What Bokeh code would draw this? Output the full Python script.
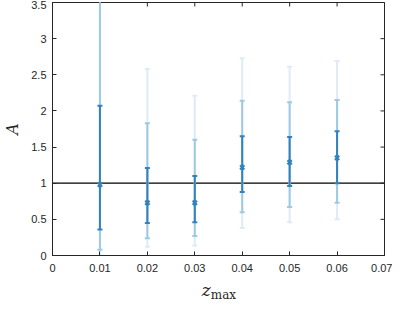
import math
from bokeh.plotting import figure
from bokeh.models import LinearAxis, FixedTicker, Span, Range1d, Div
from bokeh.layouts import column
from bokeh.embed import file_html
from bokeh.resources import INLINE

# ---- data ----
z_max = [0.01, 0.02, 0.03, 0.04, 0.05, 0.06]
A_val = [0.98, 0.73, 0.73, 1.22, 1.29, 1.35]
dark_lo = [0.36, 0.45, 0.46, 0.88, 0.96, 1.00]
dark_hi = [2.07, 1.21, 1.10, 1.65, 1.64, 1.72]
mid_lo = [0.08, 0.24, 0.27, 0.60, 0.67, 0.73]
mid_hi = [3.60, 1.83, 1.60, 2.14, 2.12, 2.15]
light_lo = [-0.20, 0.12, 0.14, 0.38, 0.46, 0.50]
light_hi = [4.80, 2.58, 2.21, 2.73, 2.61, 2.69]
ref_level = 1.0

x_ticks = [0, 0.01, 0.02, 0.03, 0.04, 0.05, 0.06, 0.07]
x_tick_labels = ["0", "0.01", "0.02", "0.03", "0.04", "0.05", "0.06", "0.07"]
y_ticks = [0, 0.5, 1, 1.5, 2, 2.5, 3, 3.5]
y_tick_labels = ["0", "0.5", "1", "1.5", "2", "2.5", "3", "3.5"]
x_min, x_max = 0, 0.07
y_min, y_max = 0, 3.5

c_dark = "#3182bd"
c_mid = "#9ecae1"
c_light = "#deebf7"
axis_col = "#262626"
tick_font = "Liberation Sans"
label_font = "DejaVu Serif"

p = figure(width=392, height=278, output_backend="svg", toolbar_location=None,
           x_range=Range1d(x_min, x_max), y_range=Range1d(y_min, y_max),
           min_border_left=43, min_border_right=8, min_border_top=2,
           min_border_bottom=23, x_axis_location=None, y_axis_location=None)
p.grid.visible = False
p.outline_line_color = axis_col
p.outline_line_width = 1
p.background_fill_color = "white"
p.border_fill_color = "white"


def style_axis(ax, ticks, labels):
    ax.ticker = FixedTicker(ticks=ticks)
    ax.major_label_overrides = {t: l for t, l in zip(ticks, labels)}
    ax.major_tick_in = 4
    ax.major_tick_out = 0
    ax.minor_tick_in = 0
    ax.minor_tick_out = 0
    ax.axis_line_color = axis_col
    ax.major_tick_line_color = axis_col
    ax.major_label_text_color = axis_col
    ax.major_label_text_font = tick_font
    ax.major_label_text_font_size = "11px"
    ax.major_label_standoff = 8


xb = LinearAxis()
style_axis(xb, x_ticks, x_tick_labels)
p.add_layout(xb, "below")
yl = LinearAxis(axis_label="A", axis_label_text_font=label_font,
                axis_label_text_font_style="italic",
                axis_label_text_font_size="16px", axis_label_text_color=axis_col,
                axis_label_standoff=6)
style_axis(yl, y_ticks, y_tick_labels)
yl.major_label_standoff = 6
p.add_layout(yl, "left")

# mirrored ticks on top and right (box on): dashes centred on the frame edge,
# the outer half is clipped by the frame
p.scatter(x=[x_max] * len(y_ticks), y=y_ticks, marker="dash", size=8,
          line_color=axis_col, line_width=1)
p.scatter(x=x_ticks, y=[y_max] * len(x_ticks), marker="dash", size=8,
          angle=math.pi / 2, line_color=axis_col, line_width=1)

p.add_layout(Span(location=ref_level, dimension="width", line_color="black",
                  line_width=1.2, level="underlay"))

for lo, hi, col in ((light_lo, light_hi, c_light), (mid_lo, mid_hi, c_mid),
                    (dark_lo, dark_hi, c_dark)):
    p.segment(x0=z_max, y0=lo, x1=z_max, y1=hi, line_color=col, line_width=2)
    p.scatter(x=z_max, y=lo, marker="dash", size=5, line_color=col, line_width=2)
    p.scatter(x=z_max, y=hi, marker="dash", size=5, line_color=col, line_width=2)

p.scatter(x=z_max, y=A_val, marker="x", size=6, line_color=c_dark, line_width=2.2)

xlabel_html = (
    '<div style="width:342px;margin-left:43px;text-align:center;'
    'color:#262626;line-height:15px;white-space:nowrap">'
    '<span style="font-family:\'DejaVu Serif\';font-style:italic;font-size:17px">z</span>'
    '<span style="font-family:\'DejaVu Serif\';font-size:12px;position:relative;top:3px">max</span>'
    '</div>'
)
xlabel = Div(text=xlabel_html, width=392, height=16)

layout = column(p, xlabel, spacing=0)
open("out.html", "w").write(file_html(layout, INLINE))
